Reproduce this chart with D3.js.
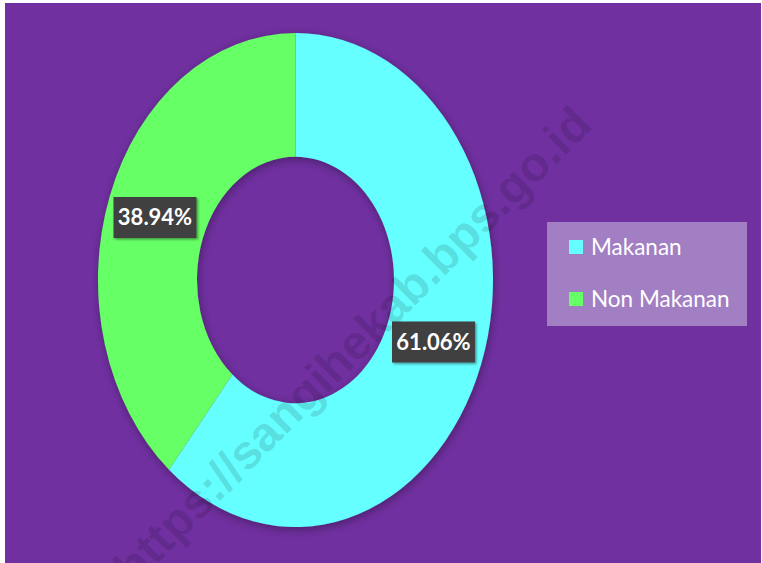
<!DOCTYPE html>
<html>
<head>
<meta charset="utf-8">
<script src="https://cdn.jsdelivr.net/npm/d3@7"></script>
<style>
  html, body { margin: 0; padding: 0; background: #fff; }
  svg { display: block; }
</style>
</head>
<body>
<svg id="chart" width="762" height="563"></svg>
<script>
// data
const categories = ['Makanan', 'Non Makanan'];
const shares = [61.06, 38.94];
const colors = ['#66FFFF', '#66FF66'];
const watermark = 'https://sangihekab.bps.go.id';

const W = 762, H = 563;
const cx = 295.5, cy = 280;
const rOuter = 197.5, rInner = 98.5;
const yStretch = 247 / 197.5;

const svg = d3.select('#chart');

const defs = svg.append('defs');
const shadow = defs.append('filter')
    .attr('id', 'shadow')
    .attr('x', '-20%').attr('y', '-20%')
    .attr('width', '140%').attr('height', '140%');
shadow.append('feDropShadow')
    .attr('dx', 1).attr('dy', 2)
    .attr('stdDeviation', 4)
    .attr('flood-color', '#000')
    .attr('flood-opacity', 0.35);

const lblShadow = defs.append('filter')
    .attr('id', 'lblshadow')
    .attr('x', '-20%').attr('y', '-20%')
    .attr('width', '140%').attr('height', '140%');
lblShadow.append('feDropShadow')
    .attr('dx', 1.5).attr('dy', 1.5)
    .attr('stdDeviation', 1)
    .attr('flood-color', '#000')
    .attr('flood-opacity', 0.4);

// background
svg.append('rect')
    .attr('x', 5).attr('y', 3)
    .attr('width', W - 6).attr('height', H - 3)
    .attr('fill', '#7030A0');

// donut
const pie = d3.pie().sort(null).value(d => d);
const arc = d3.arc().innerRadius(rInner).outerRadius(rOuter);
const arcs = pie(shares);

const donut = svg.append('g')
    .attr('transform', `translate(${cx},${cy}) scale(1,${yStretch})`);

donut.append('g')
    .attr('filter', 'url(#shadow)')
  .selectAll('path')
  .data(arcs)
  .join('path')
    .attr('d', arc)
    .attr('fill', (d, i) => colors[i]);

// data labels
const labelPos = [[433.5, 342], [155, 217.5]];
const labels = svg.append('g').selectAll('g.lbl')
  .data(arcs)
  .join('g')
    .attr('class', 'lbl')
    .attr('transform', (d, i) => `translate(${labelPos[i][0]},${labelPos[i][1]})`);

labels.append('rect')
    .attr('x', -41.5).attr('y', -20.5)
    .attr('width', 83).attr('height', 41)
    .attr('fill', '#404040')
    .attr('filter', 'url(#lblshadow)');

labels.append('text')
    .attr('text-anchor', 'middle')
    .attr('dy', '0.36em')
    .attr('fill', '#fff')
    .style('font-family', 'Lato, "Open Sans", sans-serif')
    .style('font-weight', 'bold')
    .style('font-size', '22px')
    .text(d => d.value.toFixed(2) + '%');

// legend
const legend = svg.append('g').attr('transform', 'translate(547,222)');
legend.append('rect')
    .attr('width', 200).attr('height', 104)
    .attr('fill', '#A27EC2');

const item = legend.selectAll('g.item')
  .data(categories)
  .join('g')
    .attr('class', 'item')
    .attr('transform', (d, i) => `translate(22,${25 + i * 52})`);

item.append('rect')
    .attr('x', 0).attr('y', -7)
    .attr('width', 14).attr('height', 14)
    .attr('fill', (d, i) => colors[i]);

item.append('text')
    .attr('x', 22)
    .attr('dy', '0.35em')
    .attr('fill', '#fff')
    .style('font-family', 'Lato, "Open Sans", sans-serif')
    .style('font-size', '22.5px')
    .text(d => d);

// watermark
svg.append('text')
    .attr('transform', 'translate(352,345) rotate(-45)')
    .attr('text-anchor', 'middle')
    .attr('dy', '0.35em')
    .attr('fill', '#000')
    .attr('fill-opacity', 0.13)
    .style('font-family', '"Liberation Sans", Arial, sans-serif')
    .style('font-weight', 'bold')
    .style('font-size', '48px')
    .text(watermark);
</script>
</body>
</html>
